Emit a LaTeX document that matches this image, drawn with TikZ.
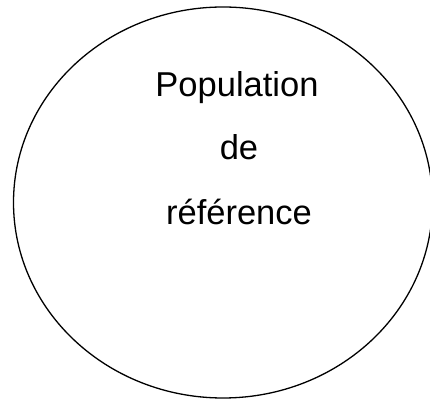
\documentclass[tikz,border=0pt]{standalone}
\usepackage{fontspec}
\setmainfont{Liberation Sans}
\begin{document}
\begin{tikzpicture}[x=1pt,y=1pt,
  label text/.style={font=\fontsize{34.5}{40}\selectfont, anchor=base, inner sep=0pt}]
\useasboundingbox (0,0) rectangle (430,401);
\clip (0,0) rectangle (430,401);
% population outline
\draw[line width=1.3pt] (223,198.5) ellipse [x radius=209.5, y radius=195.5];
% title, one line per node
\node[label text] (l1) at (237,304.3) {Population};
\node[label text] (l2) at (239,241) {de};
\node[label text] (l3) at (239,176) {référence};
\end{tikzpicture}
\end{document}
